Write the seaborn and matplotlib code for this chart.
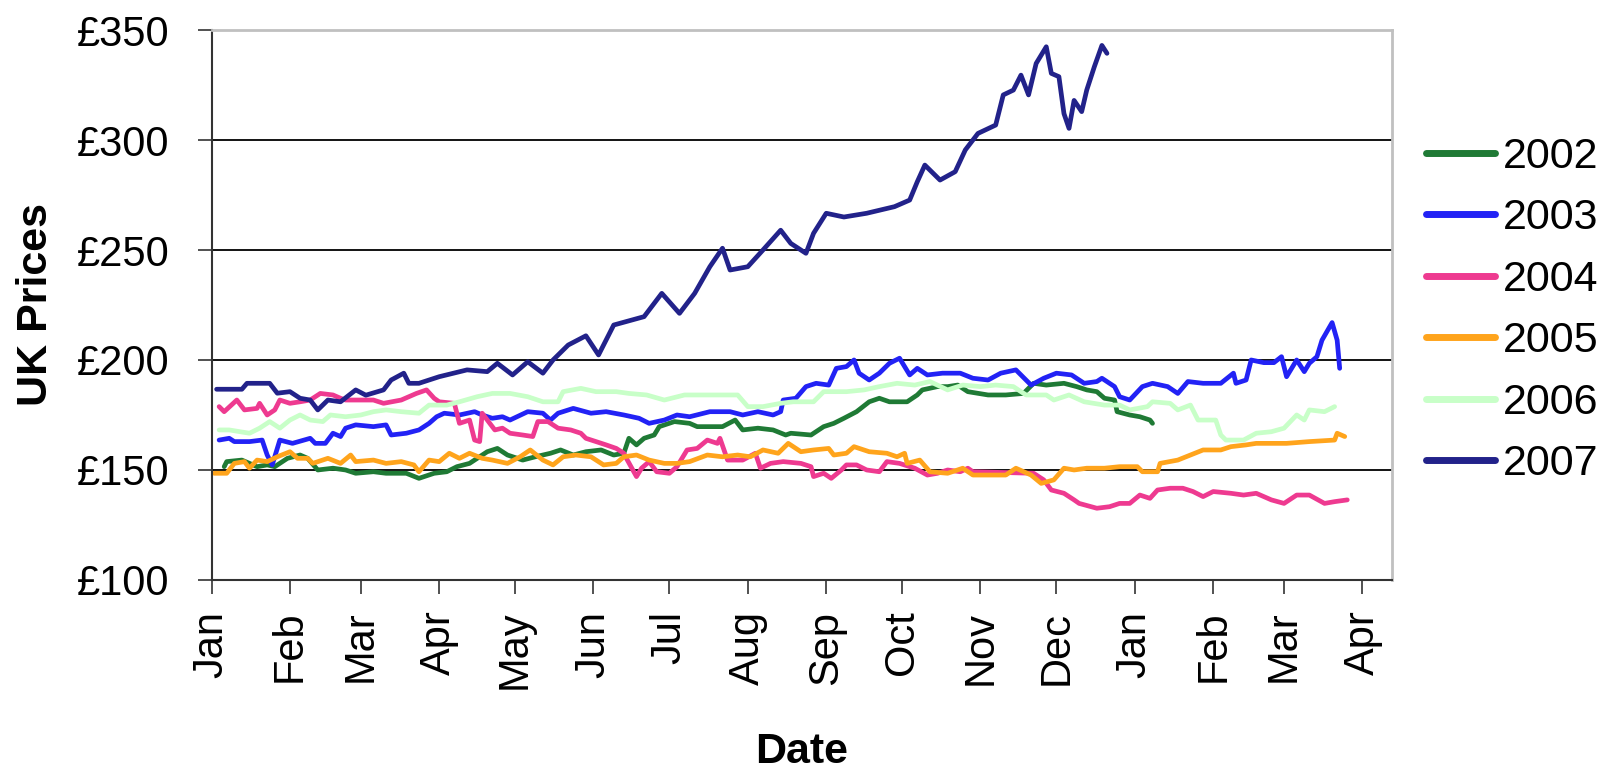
import pandas as pd
import matplotlib
matplotlib.use("Agg")
import matplotlib.pyplot as plt
import seaborn as sns

# -------------------------------
# Data (day of year from 1 Jan, price in GBP)
# -------------------------------
days_2002 = [5, 6, 12, 18, 22, 25, 30, 35, 38, 42, 48, 53, 57, 64, 69, 77, 82, 88, 93, 97,
             102, 109, 113, 117, 123, 128, 134, 138, 143, 148, 154, 159, 163, 165, 168, 171,
             175, 177, 183, 189, 192, 202, 207, 210, 216, 222, 227, 229, 237, 242, 246, 250,
             255, 260, 264, 268, 275, 279, 281, 287, 291, 295, 299, 307, 314, 321, 325, 330,
             337, 342, 346, 350, 353, 357, 358, 363, 367, 371, 372]
price_2002 = [151.5, 153.8, 154.5, 151.5, 152.3, 151.5, 155.3, 156.8, 155.3, 150.0, 150.8,
              150.0, 148.5, 149.2, 148.5, 148.5, 146.2, 148.5, 149.2, 151.5, 153.0, 158.3,
              159.8, 156.8, 154.5, 156.0, 157.6, 159.1, 156.8, 158.3, 159.1, 156.8, 157.6,
              164.4, 161.4, 164.4, 165.9, 169.7, 172.0, 171.2, 169.7, 169.7, 172.7, 168.2,
              169.0, 168.2, 165.9, 166.7, 165.9, 169.7, 171.2, 173.5, 176.5, 181.0, 182.6,
              181.0, 181.0, 184.1, 186.4, 187.9, 187.9, 188.6, 185.6, 184.1, 184.1, 184.8,
              189.4, 188.6, 189.4, 187.9, 186.4, 185.6, 182.6, 181.8, 176.5, 175.0, 174.2,
              172.7, 171.2]

days_2003 = [3, 7, 9, 15, 20, 22, 24, 27, 32, 39, 41, 45, 48, 51, 53, 57, 64, 69, 71, 77,
             82, 86, 89, 92, 98, 104, 107, 111, 115, 118, 125, 131, 134, 137, 143, 150, 156,
             163, 169, 173, 179, 184, 189, 197, 205, 210, 216, 222, 225, 226, 231, 235, 239,
             244, 247, 251, 254, 256, 260, 264, 268, 272, 276, 279, 283, 289, 296, 301, 307,
             312, 318, 324, 329, 334, 340, 345, 350, 352, 357, 359, 363, 368, 372, 378, 382,
             386, 392, 399, 404, 405, 409, 411, 416, 420, 423, 425, 429, 432, 434, 437, 439,
             443, 445, 446]
price_2003 = [163.6, 164.4, 162.9, 162.9, 163.6, 156.8, 152.3, 163.6, 162.1, 164.4, 162.1,
              162.1, 166.7, 165.2, 169.0, 170.5, 169.7, 170.5, 165.9, 166.7, 168.2, 171.2,
              174.2, 175.8, 175.0, 176.5, 175.0, 173.5, 174.2, 172.7, 176.5, 175.8, 172.7,
              175.8, 178.0, 175.8, 176.5, 175.0, 173.5, 171.2, 172.7, 175.0, 174.2, 176.5,
              176.5, 175.0, 176.5, 175.0, 176.5, 181.8, 182.6, 187.9, 189.4, 188.6, 196.2,
              197.0, 200.0, 194.0, 190.9, 194.0, 198.5, 200.8, 193.2, 196.2, 193.2, 194.0,
              194.0, 191.7, 190.9, 194.0, 195.5, 188.6, 191.7, 194.0, 193.2, 189.4, 190.2,
              191.7, 187.9, 183.3, 181.8, 187.9, 189.4, 187.9, 184.8, 190.2, 189.4, 189.4,
              194.0, 189.4, 190.9, 200.0, 198.8, 198.8, 201.5, 192.4, 200.0, 194.7, 198.5,
              201.5, 209.0, 217.0, 209.0, 196.2]

days_2004 = [3, 5, 10, 13, 18, 19, 22, 25, 27, 31, 35, 39, 43, 48, 51, 53, 59, 64, 68, 75,
             81, 85, 88, 90, 96, 98, 102, 104, 106, 107, 110, 112, 115, 118, 123, 127, 129,
             133, 137, 142, 146, 148, 152, 156, 160, 163, 164, 168, 170, 173, 176, 181, 184,
             188, 192, 196, 200, 201, 204, 210, 215, 217, 221, 226, 233, 237, 238, 242, 245,
             249, 251, 255, 259, 264, 267, 272, 278, 283, 287, 291, 296, 299, 301, 325, 329,
             332, 337, 341, 343, 350, 355, 359, 363, 367, 371, 374, 379, 384, 388, 392, 396,
             403, 408, 413, 419, 424, 429, 434, 440, 444, 449]
price_2004 = [178.8, 176.5, 181.8, 177.3, 178.0, 180.3, 175.0, 177.3, 181.8, 180.3, 181.0,
              181.8, 184.8, 184.1, 182.6, 181.8, 181.8, 181.8, 180.3, 181.8, 184.8, 186.4,
              182.6, 181.0, 180.3, 171.2, 172.7, 163.6, 162.9, 175.8, 171.2, 168.2, 169.0,
              166.7, 165.9, 165.2, 172.0, 172.0, 169.0, 168.2, 166.7, 164.4, 162.9, 161.4,
              159.8, 157.6, 155.3, 147.0, 150.8, 153.8, 149.2, 148.5, 151.5, 159.1, 159.8,
              163.6, 162.1, 164.4, 154.5, 154.5, 157.6, 150.8, 153.0, 153.8, 153.0, 151.5,
              147.0, 148.5, 146.2, 150.0, 152.3, 152.3, 150.0, 149.2, 153.8, 153.0, 150.8,
              147.7, 148.5, 150.0, 149.2, 150.8, 149.2, 148.5, 145.5, 140.9, 139.4, 136.4,
              134.8, 132.6, 133.3, 134.8, 134.8, 138.6, 137.1, 140.9, 141.7, 141.7, 140.2,
              137.9, 140.2, 139.4, 138.6, 139.4, 136.4, 134.8, 138.6, 138.6, 134.8, 135.6,
              136.4]

days_2005 = [1, 6, 9, 13, 15, 18, 22, 26, 31, 34, 38, 40, 46, 51, 55, 57, 64, 69, 75, 80,
             82, 86, 90, 94, 98, 102, 107, 111, 117, 122, 126, 131, 135, 139, 144, 150, 155,
             160, 163, 168, 173, 179, 184, 189, 196, 202, 208, 213, 218, 224, 228, 233, 238,
             244, 246, 251, 254, 260, 267, 271, 274, 275, 280, 284, 291, 297, 301, 307, 314,
             318, 324, 328, 333, 337, 341, 346, 353, 359, 366, 368, 374, 375, 382, 387, 392,
             399, 403, 409, 413, 425, 434, 444, 445, 448]
price_2005 = [148.5, 148.5, 153.0, 153.8, 150.8, 154.5, 153.8, 156.0, 158.3, 155.3, 155.3,
              153.0, 155.3, 153.0, 156.8, 153.8, 154.5, 153.0, 153.8, 152.3, 149.2, 154.5,
              153.8, 157.6, 155.3, 157.6, 155.3, 154.5, 153.0, 156.0, 159.1, 154.5, 152.3,
              156.0, 156.8, 156.0, 152.3, 153.0, 156.0, 156.8, 154.5, 153.0, 153.0, 153.8,
              156.8, 156.0, 156.8, 156.0, 159.1, 157.6, 162.1, 158.3, 159.1, 159.8, 156.8,
              157.6, 160.6, 158.3, 157.6, 156.0, 157.6, 153.0, 154.5, 149.2, 148.5, 150.8,
              147.7, 147.7, 147.7, 150.8, 147.7, 143.9, 145.5, 150.8, 150.0, 150.8, 150.8,
              151.5, 151.5, 149.2, 149.2, 153.0, 154.5, 156.8, 159.1, 159.1, 160.6, 161.4,
              162.1, 162.1, 162.9, 163.6, 166.7, 165.2]

days_2006 = [3, 7, 15, 19, 23, 27, 31, 35, 39, 44, 47, 53, 59, 64, 69, 75, 82, 86, 93, 98,
             105, 111, 118, 125, 131, 137, 139, 146, 152, 160, 165, 172, 179, 187, 194, 202,
             208, 212, 218, 225, 230, 238, 242, 251, 258, 264, 271, 278, 284, 291, 297, 304,
             310, 317, 322, 330, 333, 339, 345, 353, 359, 363, 370, 372, 379, 382, 387, 390,
             397, 399, 401, 408, 413, 419, 424, 429, 432, 434, 440, 444]
price_2006 = [168.2, 168.2, 166.7, 169.0, 172.0, 169.0, 172.7, 175.0, 172.7, 172.0, 175.0,
              174.2, 175.0, 176.5, 177.3, 176.5, 175.8, 179.5, 179.5, 181.0, 183.3, 184.8,
              184.8, 183.3, 181.0, 181.0, 185.6, 187.1, 185.6, 185.6, 184.8, 184.1, 181.8,
              184.1, 184.1, 184.1, 184.1, 178.8, 178.8, 180.3, 181.0, 181.0, 185.6, 185.6,
              186.4, 187.9, 189.4, 188.6, 190.2, 186.4, 188.6, 187.9, 188.6, 187.9, 184.1,
              184.1, 181.8, 184.1, 181.0, 179.5, 179.5, 177.3, 178.8, 181.0, 180.3, 177.3,
              179.5, 172.7, 172.7, 165.9, 163.6, 163.6, 166.7, 167.4, 169.0, 175.0, 172.7,
              177.3, 176.5, 178.8]

days_2007 = [2, 12, 14, 23, 26, 31, 35, 39, 42, 46, 51, 57, 61, 68, 71, 76, 78, 82, 90, 101,
             109, 113, 119, 125, 131, 135, 141, 148, 153, 159, 171, 178, 185, 191, 197, 202,
             205, 212, 218, 225, 229, 235, 238, 243, 250, 259, 270, 276, 279, 282, 288, 294,
             298, 303, 310, 313, 317, 320, 323, 326, 330, 332, 335, 337, 339, 341, 344, 346,
             349, 352, 354]
price_2007 = [186.7, 186.7, 189.4, 189.4, 184.9, 185.6, 182.6, 181.8, 177.3, 181.8, 181.0,
              186.4, 184.0, 186.4, 190.9, 194.0, 189.4, 189.4, 192.4, 195.5, 194.7, 198.5,
              193.2, 199.2, 194.0, 200.0, 206.8, 211.0, 202.3, 215.9, 219.7, 230.3, 221.2,
              230.3, 242.4, 250.8, 240.9, 242.4, 250.0, 259.0, 253.0, 248.5, 257.6, 266.7,
              265.0, 266.7, 269.7, 272.7, 281.0, 288.6, 281.8, 285.6, 295.5, 303.0, 306.8,
              320.5, 322.7, 329.5, 320.5, 334.8, 342.4, 330.3, 328.8, 312.0, 305.3, 318.0,
              312.9, 322.7, 333.3, 343.0, 339.4]

years = ["2002", "2003", "2004", "2005", "2006", "2007"]
colors = ["#1F7A35", "#2222F5", "#EE3A90", "#FFA41C", "#C8FFC8", "#22228A"]

month_days = [0, 31, 59, 90, 120, 151, 181, 212, 243, 273, 304, 334, 365, 396, 424, 455]
month_labels = ["Jan", "Feb", "Mar", "Apr", "May", "Jun", "Jul", "Aug", "Sep", "Oct",
                "Nov", "Dec", "Jan", "Feb", "Mar", "Apr"]
price_ticks = [100, 150, 200, 250, 300, 350]

# build one long table
series = [(days_2002, price_2002), (days_2003, price_2003), (days_2004, price_2004),
          (days_2005, price_2005), (days_2006, price_2006), (days_2007, price_2007)]
frames = []
for year, (d, p) in zip(years, series):
    frames.append(pd.DataFrame({"Day": d, "Price": p, "Year": year}))
df = pd.concat(frames, ignore_index=True)

# -------------------------------
# Plot
# -------------------------------
sns.set_style("white")
plt.rcParams["font.family"] = ["Liberation Sans", "DejaVu Sans"]
plt.rcParams["text.color"] = "black"
plt.rcParams["axes.labelcolor"] = "black"
plt.rcParams["xtick.color"] = "black"
plt.rcParams["ytick.color"] = "black"

fig, ax = plt.subplots(figsize=(16.05, 7.7), dpi=100)
fig.subplots_adjust(left=0.1318, right=0.867, top=0.961, bottom=0.2468)

sns.lineplot(data=df, x="Day", y="Price", hue="Year", hue_order=years,
             palette=dict(zip(years, colors)), linewidth=3.4, estimator=None,
             sort=False, ax=ax)

ax.set_xlim(0, 466.5)
ax.set_ylim(100, 350)
ax.set_xticks(month_days)
ax.set_xticklabels(month_labels, rotation=90, fontsize=30)
ax.set_yticks(price_ticks)
ax.set_yticklabels(["£%d" % v for v in price_ticks], fontsize=30)
ax.tick_params(axis="both", direction="out", length=10, width=1.2, color="#333333",
               bottom=True, left=True, labelcolor="black")
ax.tick_params(axis="x", pad=12)
ax.tick_params(axis="y", pad=20)

ax.yaxis.grid(True, color="black", linewidth=1.3)
grid = ax.get_ygridlines()
grid[0].set_visible(False)
grid[-1].set_visible(False)

for side in ["top", "right"]:
    ax.spines[side].set_color("#C0C0C0")
    ax.spines[side].set_linewidth(2)
for side in ["left", "bottom"]:
    ax.spines[side].set_color("#333333")
    ax.spines[side].set_linewidth(1.5)

ax.set_xlabel("Date", fontsize=31, fontweight="bold", color="black")
ax.set_ylabel("UK Prices", fontsize=31, fontweight="bold", color="black")
ax.xaxis.set_label_coords(0.5, -0.276)
ax.yaxis.set_label_coords(-0.132, 0.5)

leg = ax.legend(loc="center left", bbox_to_anchor=(1.029, 0.49), frameon=False,
                fontsize=31, handlelength=1.6, handletextpad=0.2, labelspacing=0.5,
                borderaxespad=0, borderpad=0)
for text in leg.get_texts():
    text.set_color("black")
for line in leg.get_lines():
    line.set_linewidth(5)

fig.savefig("out.png", dpi=100)
